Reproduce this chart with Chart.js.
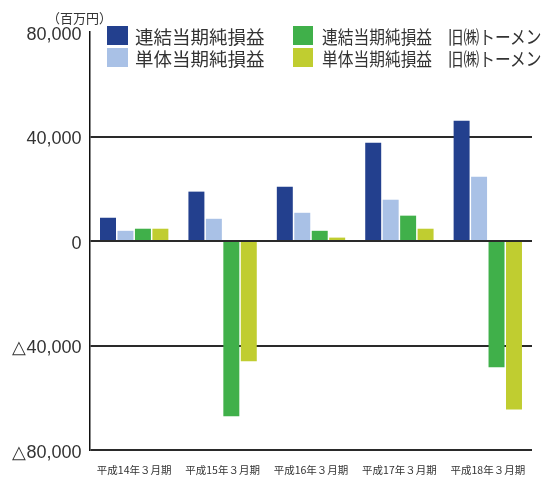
<!DOCTYPE html>
<html>
<head>
<meta charset="utf-8">
<script src="https://cdn.jsdelivr.net/npm/chart.js@4"></script>
<style>
  body { margin: 0; background: #fff; }
  #wrap { position: relative; width: 543px; height: 482px; overflow: hidden; }
  #grafico { position: absolute; left: 0; top: 0; }
  .unidade { position: absolute; left: 47px; top: 10px; font: 13px/16px "Noto Sans CJK JP"; color: #333; text-spacing-trim: space-all; font-feature-settings: "fwid" 1; white-space: nowrap; }
  .item { position: absolute; height: 22px; white-space: nowrap; font: 18.5px/22px "Noto Sans CJK JP"; color: #333; }
  .item i { position: absolute; left: 0; top: 1.5px; width: 21px; height: 19px; }
  .item span { position: absolute; left: 28px; top: 0; transform-origin: 0 50%; text-spacing-trim: space-all; }
  .item.estreito i { width: 20px; }
  .item.estreito span { transform: scaleX(0.85); left: 29px; }
</style>
</head>
<body>
<div id="wrap">
  <canvas id="grafico" width="543" height="482"></canvas>
  <div class="unidade">（百万円）</div>
  <div id="legenda"></div>
</div>
<script>
// valores (milhoes de ienes)
let periodos = ['平成14年３月期', '平成15年３月期', '平成16年３月期', '平成17年３月期', '平成18年３月期'];
let renketsu = [8900, 18900, 20800, 37600, 46000];
let tantai = [3900, 8500, 10800, 15800, 24600];
let renketsuTomen = [4700, -67100, 3900, 9700, -48300];
let tantaiTomen = [4700, -46000, 1300, 4700, -64500];
let eixoY = [80000, 40000, 0, -40000, -80000];

let nomes = ['連結当期純損益', '単体当期純損益', '連結当期純損益　旧㈱トーメン', '単体当期純損益　旧㈱トーメン'];
let cores = ['#23408e', '#a9c1e6', '#40b04a', '#c0cd30'];

// legenda em html, 2 colunas
let posLegenda = [[107, 24.5], [107, 46.5], [293, 24.5], [293, 46.5]];
let legenda = document.getElementById('legenda');
nomes.forEach(function (nome, i) {
    let d = document.createElement('div');
    d.className = i >= 2 ? 'item estreito' : 'item';
    d.style.left = posLegenda[i][0] + 'px';
    d.style.top = posLegenda[i][1] + 'px';
    d.innerHTML = '<i style="background:' + cores[i] + '"></i><span>' + nome + '</span>';
    legenda.appendChild(d);
});

function formatar(v) {
    let s = Math.abs(v).toLocaleString('en-US');
    return v < 0 ? '△' + s : s;
}

let series = [renketsu, tantai, renketsuTomen, tantaiTomen];
var ctx = document.getElementById('grafico').getContext('2d');

var meuGrafico = new Chart(ctx, {
    type: 'bar',
    data: {
        labels: periodos,
        datasets: series.map(function (valores, i) {
            return {
                label: nomes[i],
                data: valores,
                backgroundColor: cores[i],
                borderWidth: 0,
                barPercentage: 0.915,
                categoryPercentage: 0.79
            };
        })
    },
    options: {
        responsive: false,
        animation: false,
        layout: { padding: { left: 0, right: 11, top: 32, bottom: 0 } },
        plugins: {
            legend: { display: false },
            tooltip: { enabled: false }
        },
        scales: {
            x: {
                afterFit: function (s) { s.height = 32; },
                grid: { display: false, drawTicks: false },
                border: { display: false },
                ticks: {
                    padding: 14,
                    color: '#333',
                    maxRotation: 0,
                    font: { family: 'Noto Sans CJK JP', size: 10.5 }
                }
            },
            y: {
                min: -80000,
                max: 80000,
                afterFit: function (s) { s.width = 90; },
                afterBuildTicks: function (s) {
                    s.ticks = eixoY.slice().reverse().map(function (v) { return { value: v }; });
                },
                grid: {
                    drawTicks: false,
                    lineWidth: 2,
                    color: function (c) {
                        return c.tick && c.tick.value === 80000 ? 'rgba(0,0,0,0)' : '#2a2a2a';
                    }
                },
                border: { display: true, color: '#111', width: 1.5 },
                ticks: {
                    padding: 8.5,
                    labelOffset: 3,
                    color: '#333',
                    font: { family: 'Liberation Sans', size: 18 },
                    callback: function (v) { return formatar(v); }
                }
            }
        }
    }
});
</script>
</body>
</html>
